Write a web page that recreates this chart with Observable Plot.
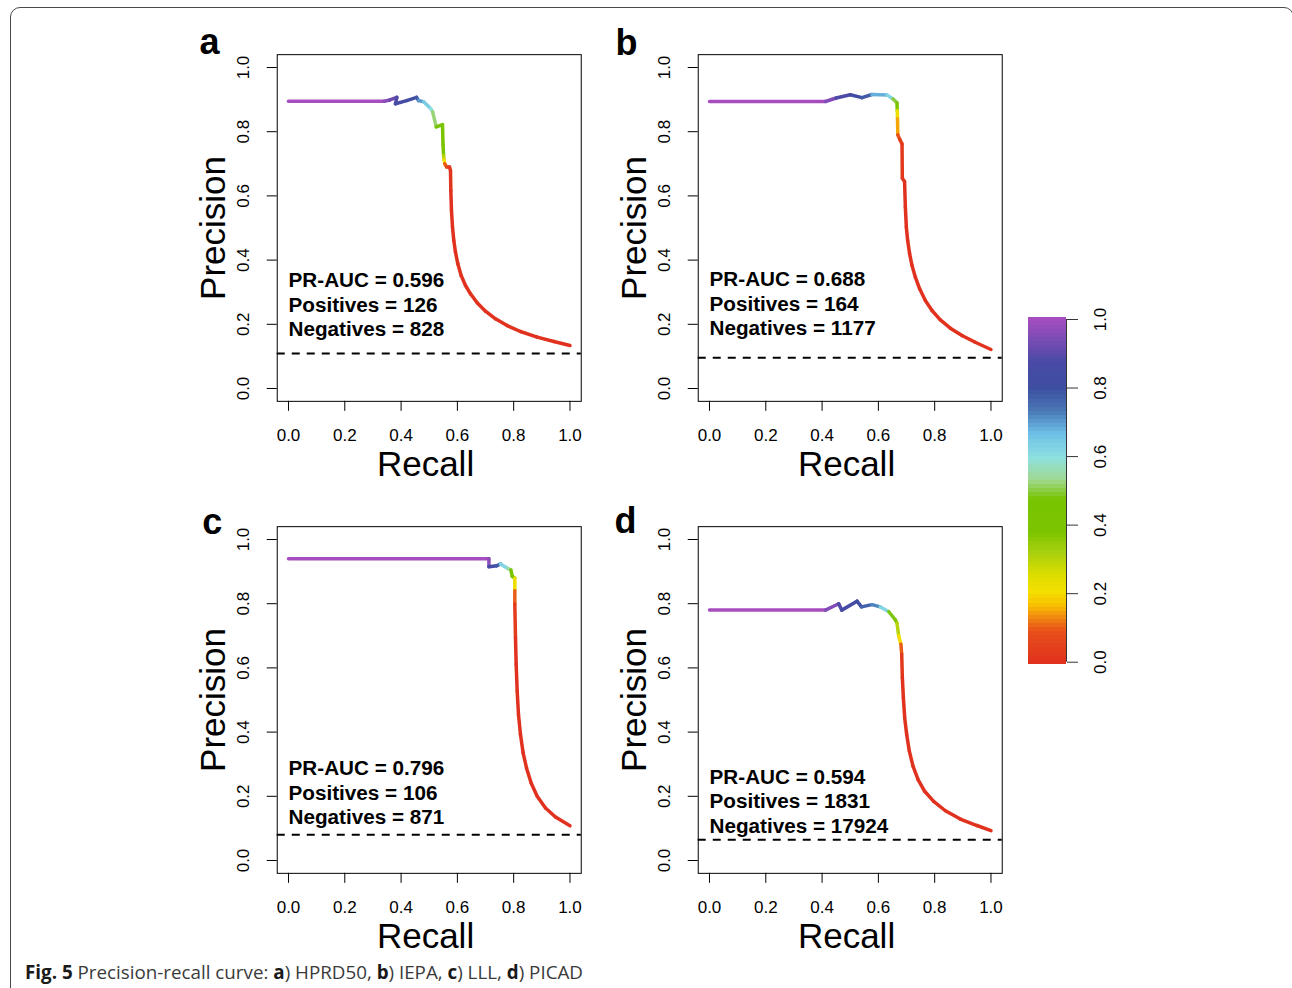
<!DOCTYPE html>
<html>
<head>
<meta charset="utf-8">
<script src="https://cdn.jsdelivr.net/npm/d3@7"></script>
<script src="https://cdn.jsdelivr.net/npm/@observablehq/plot@0.6"></script>
<style>
  html, body { margin: 0; padding: 0; background: #fff; }
  #fig { position: relative; width: 1292px; height: 988px; overflow: hidden; background: #fff; }
  .panel { position: absolute; }
  #border { position: absolute; left: 10px; top: 7px; width: 1284px; height: 1020px;
            border: 1.5px solid #4a4a4a; border-radius: 10px; box-sizing: border-box; }
  #caption { position: absolute; left: 25px; top: 960px; font-family: "Open Sans", sans-serif;
             font-size: 18.8px; line-height: 24px; color: #3a3a3a; white-space: nowrap; }
  #caption b { color: #1a1a1a; }
</style>
</head>
<body>
<div id="fig">
  <div id="border"></div>
  <div id="caption"></div>
</div>
<script>
// ---------------- data ----------------
const panelLetters = ["a", "b", "c", "d"];
const datasetNames = ["HPRD50", "IEPA", "LLL", "PICAD"];
const aucValues = [0.596, 0.688, 0.796, 0.594];
const positives = [126, 164, 106, 1831];
const negatives = [828, 1177, 871, 17924];
const baselines = [0.109, 0.096, 0.080, 0.065];
const axisTicks = [0, 0.2, 0.4, 0.6, 0.8, 1.0];

const recallA    = [0.000, 0.340, 0.360, 0.385, 0.380, 0.420, 0.455, 0.462, 0.480, 0.505, 0.512, 0.525, 0.547, 0.549, 0.551, 0.553, 0.555, 0.562, 0.572, 0.5755, 0.5767, 0.579, 0.5826, 0.5873, 0.5932, 0.6015, 0.6134, 0.6288, 0.6465, 0.6702, 0.6998, 0.7353, 0.7768, 0.824, 0.8834, 0.9426, 1.000];
const precisionA = [0.895, 0.895, 0.899, 0.907, 0.887, 0.897, 0.907, 0.897, 0.893, 0.872, 0.862, 0.815, 0.822, 0.760, 0.725, 0.712, 0.700, 0.690, 0.690, 0.679, 0.617, 0.5545, 0.5026, 0.461, 0.4247, 0.3884, 0.352, 0.3209, 0.295, 0.267, 0.2408, 0.217, 0.196, 0.1776, 0.160, 0.1464, 0.134];
const thresholdA = [1.00, 0.96, 0.92, 0.88, 0.85, 0.82, 0.78, 0.70, 0.64, 0.60, 0.52, 0.46, 0.42, 0.38, 0.30, 0.20, 0.10, 0.05, 0.02, 0.01, 0, 0, 0, 0, 0, 0, 0, 0, 0, 0, 0, 0, 0, 0, 0, 0, 0];

const recallB    = [0.000, 0.412, 0.450, 0.500, 0.542, 0.577, 0.631, 0.652, 0.666, 0.667, 0.668, 0.669, 0.676, 0.684, 0.685, 0.693, 0.6958, 0.6993, 0.704, 0.711, 0.7195, 0.7313, 0.7466, 0.7668, 0.7904, 0.820, 0.8555, 0.897, 0.944, 1.000];
const precisionB = [0.894, 0.894, 0.905, 0.915, 0.906, 0.916, 0.914, 0.902, 0.890, 0.865, 0.840, 0.790, 0.776, 0.762, 0.655, 0.645, 0.565, 0.5026, 0.461, 0.4195, 0.383, 0.3468, 0.3105, 0.274, 0.243, 0.214, 0.188, 0.165, 0.144, 0.1215];
const thresholdB = [1.00, 0.95, 0.88, 0.82, 0.78, 0.68, 0.62, 0.50, 0.38, 0.22, 0.15, 0.09, 0.04, 0.02, 0.01, 0, 0, 0, 0, 0, 0, 0, 0, 0, 0, 0, 0, 0, 0, 0];

const recallC    = [0.000, 0.712, 0.712, 0.740, 0.753, 0.779, 0.790, 0.795, 0.804, 0.804, 0.804, 0.8064, 0.8088, 0.8124, 0.817, 0.824, 0.8335, 0.8455, 0.862, 0.8834, 0.913, 0.9485, 1.000];
const precisionC = [0.940, 0.940, 0.915, 0.918, 0.924, 0.910, 0.905, 0.885, 0.880, 0.840, 0.799, 0.695, 0.6115, 0.528, 0.455, 0.393, 0.3354, 0.2885, 0.2416, 0.200, 0.1635, 0.1354, 0.108];
const thresholdC = [1.00, 0.96, 0.85, 0.78, 0.62, 0.55, 0.45, 0.38, 0.22, 0.10, 0.03, 0, 0, 0, 0, 0, 0, 0, 0, 0, 0, 0, 0];

const recallD    = [0.000, 0.412, 0.459, 0.470, 0.524, 0.540, 0.577, 0.607, 0.637, 0.660, 0.666, 0.672, 0.680, 0.6828, 0.6851, 0.6887, 0.6934, 0.7005, 0.710, 0.723, 0.741, 0.7644, 0.7963, 0.838, 0.891, 0.950, 1.000];
const precisionD = [0.780, 0.780, 0.800, 0.780, 0.808, 0.790, 0.797, 0.790, 0.775, 0.750, 0.740, 0.700, 0.674, 0.6427, 0.5698, 0.5073, 0.4448, 0.3927, 0.3406, 0.2938, 0.252, 0.2156, 0.1844, 0.155, 0.129, 0.109, 0.093];
const thresholdD = [1.00, 0.95, 0.88, 0.85, 0.80, 0.77, 0.72, 0.62, 0.48, 0.40, 0.30, 0.20, 0.10, 0.02, 0, 0, 0, 0, 0, 0, 0, 0, 0, 0, 0, 0, 0];

// colour ramp of the threshold legend
const colorStops  = [0.00, 0.09, 0.13, 0.166, 0.204, 0.26, 0.32, 0.377, 0.473, 0.53, 0.597, 0.664, 0.73, 0.80, 0.875, 1.00];
const colorValues = ["#e0321e", "#e8501a", "#f08a10", "#f7c000", "#f4e000", "#d8dc00", "#a8d010", "#7cc400", "#78c400", "#a0d890", "#8ee0e0", "#6ec0e8", "#4a7ab8", "#3e4ea0", "#4a4aa6", "#a64ec0"];

// ---------------- layout / style ----------------
const curves = [
  [recallA, precisionA, thresholdA],
  [recallB, precisionB, thresholdB],
  [recallC, precisionC, thresholdC],
  [recallD, precisionD, thresholdD]
];
const panelPos = [[180, 20], [601, 20], [180, 491.5], [601, 491.5]];
const letterOffset = [[-67.7, -0.7], [-71.7, 0], [-65, 7.6], [-72.7, 6]];
const annotY = [0.264, 0.267, 0.2135, 0.187];
const FONT = "'Liberation Sans', Arial, Helvetica, sans-serif";
const colorScale = {type: "linear", domain: colorStops, range: colorValues, clamp: true};
const fmt = d3.format(".1f");

const fig = document.getElementById("fig");

curves.forEach(([rec, prec, thr], i) => {
  const segs = rec.slice(0, -1).map((r, j) => ({
    x1: r, y1: prec[j], x2: rec[j + 1], y2: prec[j + 1], t: thr[j]
  }));
  const label = `PR-AUC = ${aucValues[i].toFixed(3)}\nPositives = ${positives[i]}\nNegatives = ${negatives[i]}`;
  const chart = Plot.plot({
    width: 420, height: 470,
    marginLeft: 96.74, marginRight: 19.26, marginTop: 34.16, marginBottom: 89.16,
    style: {fontFamily: FONT, fontSize: "17px", color: "black", background: "transparent", overflow: "visible"},
    x: {domain: [-0.04, 1.04]},
    y: {domain: [-0.04, 1.04]},
    color: colorScale,
    marks: [
      Plot.axisX(axisTicks, {anchor: "bottom", tickSize: 10, tickPadding: 18, tickFormat: fmt, label: null, stroke: "black", fill: "black"}),
      Plot.axisY(axisTicks, {anchor: "left", tickSize: 10, tickPadding: 18, tickRotate: -90, textAnchor: "middle", lineAnchor: "bottom", tickFormat: fmt, label: null, stroke: "black", fill: "black"}),
      Plot.ruleY([baselines[i]], {stroke: "black", strokeWidth: 2, strokeDasharray: "8,7"}),
      Plot.link(segs, {x1: "x1", y1: "y1", x2: "x2", y2: "y2", stroke: "t", strokeWidth: 3.5, strokeLinecap: "round", strokeLinejoin: "round"}),
      Plot.frame({stroke: "black", strokeWidth: 1}),
      Plot.text([label], {x: 0, y: annotY[i], text: d => d, textAnchor: "start", lineAnchor: "middle", lineHeight: 1.19, fontSize: 20.7, fontWeight: "bold", fill: "black"}),
      Plot.text(["Recall"], {frameAnchor: "bottom", text: d => d, dx: -3.7, dy: 74.2, textAnchor: "middle", lineAnchor: "bottom", fontSize: 35, fill: "black"}),
      Plot.text(["Precision"], {frameAnchor: "left", text: d => d, rotate: -90, dx: -52.7, textAnchor: "middle", lineAnchor: "bottom", fontSize: 35, fill: "black"}),
      Plot.text([panelLetters[i]], {frameAnchor: "top-left", text: d => d, dx: letterOffset[i][0], dy: letterOffset[i][1], lineAnchor: "bottom", textAnchor: "middle", fontSize: 36, fontWeight: "bold", fill: "black"})
    ]
  });
  const wrap = document.createElement("div");
  wrap.className = "panel";
  wrap.style.left = panelPos[i][0] + "px";
  wrap.style.top = panelPos[i][1] + "px";
  wrap.appendChild(chart);
  fig.appendChild(wrap);
});

// ---------------- colour bar legend ----------------
const nLevels = 84;
const levels = d3.range(nLevels + 1).map(k => k / nLevels);
const legend = Plot.plot({
  width: 140, height: 400,
  marginLeft: 28, marginRight: 74, marginTop: 26.94, marginBottom: 26.24,
  style: {fontFamily: FONT, fontSize: "17px", color: "black", background: "transparent", overflow: "visible"},
  x: {domain: [0, 1], axis: null},
  y: {domain: [-0.006, 1.006]},
  color: colorScale,
  marks: [
    Plot.rect(levels, {x1: 0, x2: 1, y1: d => d - 0.5 / nLevels, y2: d => d + 0.5 / nLevels, fill: d => d, shapeRendering: "crispEdges"}),
    Plot.ruleX([1], {y1: 0, y2: 1, stroke: "#333", strokeWidth: 1}),
    Plot.axisY(axisTicks, {anchor: "right", tickSize: 11, tickPadding: 16, tickRotate: -90, textAnchor: "middle", lineAnchor: "top", tickFormat: fmt, label: null, stroke: "#333", fill: "black"})
  ]
});
const lw = document.createElement("div");
lw.className = "panel";
lw.style.left = "1000px";
lw.style.top = "290px";
lw.appendChild(legend);
fig.appendChild(lw);

// ---------------- caption ----------------
const cap = document.getElementById("caption");
cap.innerHTML = "<b>Fig. 5</b> Precision-recall curve: " +
  panelLetters.map((l, i) => `<b>${l}</b>) ${datasetNames[i]}`).join(", ");
</script>
</body>
</html>
